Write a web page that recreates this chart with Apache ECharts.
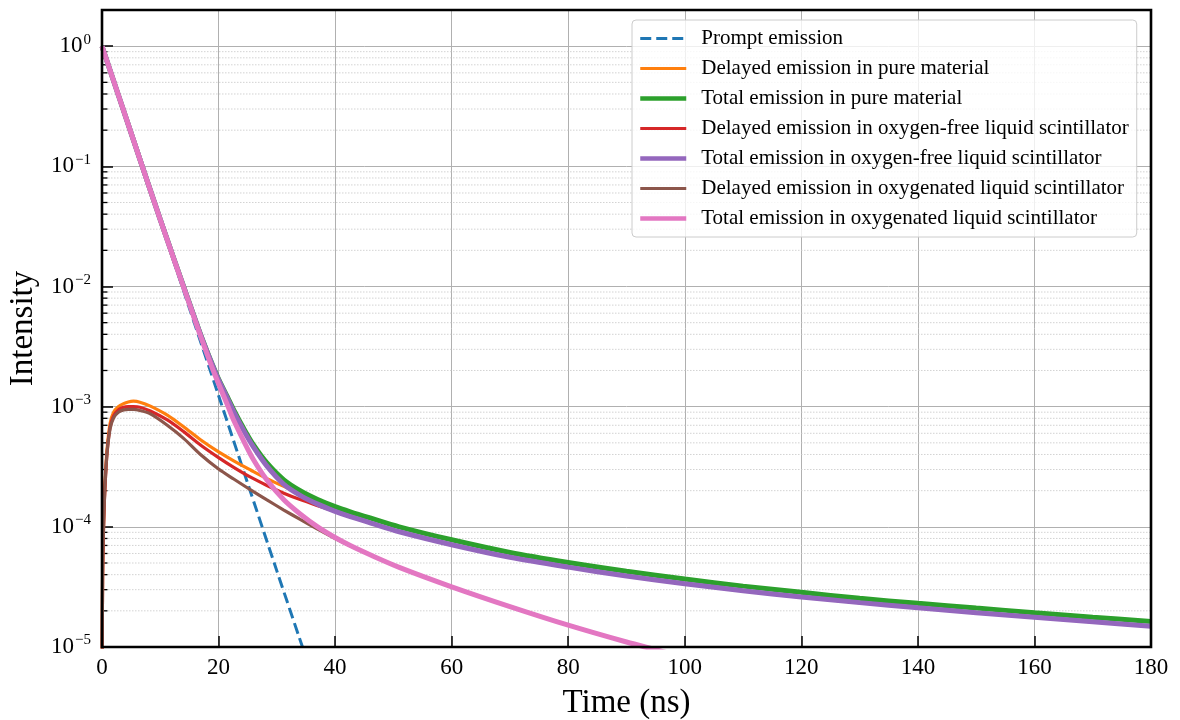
<!DOCTYPE html>
<html>
<head>
<meta charset="utf-8">
<script src="https://cdn.jsdelivr.net/npm/echarts@6/dist/echarts.min.js"></script>
<style>
html,body{margin:0;padding:0;background:#fff;}
#chart{width:1180px;height:720px;}
</style>
</head>
<body>
<div id="chart"></div>
<script>
// ---- data ----
var seriesNames = [
  'Prompt emission',
  'Delayed emission in pure material',
  'Total emission in pure material',
  'Delayed emission in oxygen-free liquid scintillator',
  'Total emission in oxygen-free liquid scintillator',
  'Delayed emission in oxygenated liquid scintillator',
  'Total emission in oxygenated liquid scintillator'
];
var xTicks = [0, 20, 40, 60, 80, 100, 120, 140, 160, 180];
var yTickExponents = [-5, -4, -3, -2, -1, 0];

var promptT = [0, 5, 10, 15, 20, 25, 30, 34.4];
var promptV = [1.0, 0.188, 0.0352, 6.6e-3, 1.24e-3, 2.3e-4, 4.3e-5, 1.0e-5];

var totalT = [0, 5, 10, 15, 17, 19, 20, 21.5, 22.6, 24.3, 26, 28.3, 31.2, 34, 37, 40, 42.6, 46, 51, 60, 70, 80, 90, 100, 110, 120, 130, 140, 150, 160, 170, 180];
var totalPureV = [1.0, 0.189, 0.036, 7.28e-3, 3.89e-3, 2.2e-3, 1.7e-3, 1.21e-3, 9.4e-4, 6.6e-4, 4.8e-4, 3.4e-4, 2.46e-4, 2.0e-4, 1.69e-4, 1.475e-4, 1.335e-4, 1.185e-4, 1.0e-4, 7.8e-5, 6.12e-5, 5.05e-5, 4.27e-5, 3.68e-5, 3.21e-5, 2.85e-5, 2.54e-5, 2.31e-5, 2.11e-5, 1.93e-5, 1.77e-5, 1.63e-5];
var totalFreeV = [1.0, 0.189, 0.036, 7.26e-3, 3.87e-3, 2.18e-3, 1.67e-3, 1.18e-3, 9.1e-4, 6.35e-4, 4.6e-4, 3.2e-4, 2.26e-4, 1.83e-4, 1.545e-4, 1.345e-4, 1.215e-4, 1.08e-4, 9.1e-5, 7.1e-5, 5.58e-5, 4.62e-5, 3.9e-5, 3.36e-5, 2.94e-5, 2.61e-5, 2.34e-5, 2.12e-5, 1.93e-5, 1.77e-5, 1.62e-5, 1.49e-5];

var totalOxT = [0, 5, 10, 15, 17, 19, 20, 21.5, 22.6, 24.3, 26, 28.3, 31.2, 34, 37, 40, 42.6, 46, 51, 60, 70, 80, 90, 95, 100];
var totalOxV = [1.0, 0.189, 0.0359, 7.15e-3, 3.75e-3, 2.04e-3, 1.55e-3, 1.04e-3, 7.7e-4, 5.2e-4, 3.62e-4, 2.45e-4, 1.68e-4, 1.28e-4, 1.0e-4, 8.15e-5, 6.98e-5, 5.85e-5, 4.6e-5, 3.17e-5, 2.17e-5, 1.52e-5, 1.1e-5, 9.5e-6, 8.2e-6];

var delayedT = [0.02, 0.1, 0.2, 0.4, 0.6, 0.9, 1.4, 2.0, 2.8, 3.7, 4.5, 5.4, 6.5, 8.3, 11.2, 14, 16.9, 20, 22.6, 25.5, 28.3, 31.2, 34, 37, 40, 42.6, 46, 51, 60, 70, 80, 90, 100, 110, 120, 130, 140, 150, 160, 170, 180];
var delayedPureV = [5e-6, 4e-5, 8e-5, 1.7e-4, 2.8e-4, 4.6e-4, 7.3e-4, 9.0e-4, 1.0e-3, 1.06e-3, 1.095e-3, 1.11e-3, 1.09e-3, 1.01e-3, 8.5e-4, 6.8e-4, 5.3e-4, 4.2e-4, 3.54e-4, 2.97e-4, 2.52e-4, 2.17e-4, 1.9e-4, 1.66e-4, 1.46e-4, 1.325e-4, 1.18e-4, 1.0e-4, 7.8e-5, 6.12e-5, 5.05e-5, 4.27e-5, 3.68e-5, 3.21e-5, 2.85e-5, 2.54e-5, 2.31e-5, 2.11e-5, 1.93e-5, 1.77e-5, 1.63e-5];
var delayedFreeV = [5e-6, 3.8e-5, 7.5e-5, 1.6e-4, 2.6e-4, 4.3e-4, 6.8e-4, 8.4e-4, 9.4e-4, 9.9e-4, 1.0e-3, 1.0e-3, 9.9e-4, 9.2e-4, 7.75e-4, 6.2e-4, 4.8e-4, 3.77e-4, 3.13e-4, 2.59e-4, 2.21e-4, 1.905e-4, 1.685e-4, 1.5e-4, 1.343e-4, 1.215e-4, 1.08e-4, 9.1e-5, 7.1e-5, 5.58e-5, 4.62e-5, 3.9e-5, 3.36e-5, 2.94e-5, 2.61e-5, 2.34e-5, 2.12e-5, 1.93e-5, 1.77e-5, 1.62e-5, 1.49e-5];
var delayedOxT = [0.02, 0.1, 0.2, 0.4, 0.6, 0.9, 1.4, 2.0, 2.8, 3.7, 4.5, 5.4, 6.5, 8.3, 11.2, 14, 16.9, 20, 22.6, 25.5, 28.3, 31.2, 34, 37, 40, 42.6, 46, 51, 60, 70, 80, 90, 95, 100];
var delayedOxV = [5e-6, 3.8e-5, 7.5e-5, 1.6e-4, 2.6e-4, 4.3e-4, 6.6e-4, 8.1e-4, 9.0e-4, 9.4e-4, 9.5e-4, 9.5e-4, 9.3e-4, 8.7e-4, 7.0e-4, 5.45e-4, 4.0e-4, 3.03e-4, 2.5e-4, 2.03e-4, 1.675e-4, 1.38e-4, 1.153e-4, 9.57e-5, 8.0e-5, 6.95e-5, 5.85e-5, 4.6e-5, 3.17e-5, 2.17e-5, 1.52e-5, 1.1e-5, 9.5e-6, 8.2e-6];

var colors = ['#1f77b4', '#ff7f0e', '#2ca02c', '#d62728', '#9467bd', '#8c564b', '#e377c2'];
var lineWidths = [3, 3.2, 5, 3.2, 5, 3.2, 5];
var legendWidths = [3, 3.2, 4.5, 3.2, 4.5, 3.2, 4.5];
var promptDash = [11, 5];

function pairs(t, v) { return t.map(function (x, i) { return [x, v[i]]; }); }

// minor grid positions on the log axis (2..9 per decade)
var minorValues = [];
yTickExponents.forEach(function (e) {
  if (e >= 0) return;
  for (var k = 2; k <= 9; k++) minorValues.push(+(k * Math.pow(10, e)).toPrecision(6));
});

var FONT = '"Liberation Serif", "DejaVu Serif", serif';

var chart = echarts.init(document.getElementById('chart'), null, { renderer: 'canvas' });

function lineSeries(idx, data) {
  return {
    name: seriesNames[idx],
    type: 'line',
    data: data,
    symbol: 'none',
    showSymbol: false,
    smooth: 0.3,
    clip: true,
    z: 3 + idx,
    lineStyle: { color: colors[idx], width: lineWidths[idx], type: idx === 0 ? promptDash : 'solid', cap: 'butt' },
    itemStyle: { color: colors[idx] },
    emphasis: { disabled: true }
  };
}

var option = {
  animation: false,
  backgroundColor: '#fff',
  textStyle: { fontFamily: FONT },
  grid: {
    left: 102, right: 29, top: 10, bottom: 73,
    outerBoundsMode: 'none', containLabel: false,
    show: true, borderColor: '#000', borderWidth: 2.6, backgroundColor: 'transparent', z: 20
  },
  legend: {
    data: seriesNames.map(function (n, i) {
      return { name: n, lineStyle: { width: legendWidths[i], color: colors[i], type: i === 0 ? promptDash : 'solid' } };
    }),
    orient: 'vertical',
    left: 632, top: 20,
    padding: [8, 8, 8, 6],
    itemWidth: 46, itemHeight: 14, itemGap: 9,
    backgroundColor: 'rgba(255,255,255,0.8)',
    borderColor: '#cccccc', borderWidth: 1, borderRadius: 4,
    itemStyle: { opacity: 0, borderWidth: 0 },
    textStyle: { fontFamily: FONT, fontSize: 21, color: '#000', lineHeight: 20, padding: [0, 0, 0, 10] },
    z: 30
  },
  xAxis: {
    type: 'value', min: 0, max: 180, interval: 20,
    name: 'Time (ns)', nameLocation: 'middle', nameGap: 40,
    nameTextStyle: { fontFamily: FONT, fontSize: 33, color: '#000' },
    axisLine: { show: false },
    axisTick: { show: true, inside: true, length: 11, lineStyle: { color: '#000', width: 1.5 } },
    axisLabel: { fontFamily: FONT, fontSize: 23, color: '#000', margin: 9,
      formatter: function (v) { return xTicks.indexOf(v) >= 0 ? String(v) : ''; } },
    splitLine: { show: true, showMinLine: false, showMaxLine: false, lineStyle: { color: '#b0b0b0', width: 1 } }
  },
  yAxis: {
    type: 'log', logBase: 10, min: 1e-5, max: 2,
    name: 'Intensity', nameLocation: 'middle', nameGap: 49, nameRotate: 90,
    nameTextStyle: { fontFamily: FONT, fontSize: 33, color: '#000' },
    axisLine: { show: false },
    axisTick: { show: true, inside: true, length: 11, lineStyle: { color: '#000', width: 1.5 } },
    axisLabel: {
      margin: 11, color: '#000',
      formatter: function (v) {
        var e = Math.log10(v), n = Math.round(e);
        if (Math.abs(e - n) > 1e-6 || yTickExponents.indexOf(n) < 0) return '';
        return '{b|10}{s|' + (n < 0 ? '\u2212' + (-n) : String(n)) + '}';
      },
      rich: {
        b: { fontFamily: FONT, fontSize: 23, color: '#000' },
        s: { fontFamily: FONT, fontSize: 15, color: '#000', padding: [0, 0, 13, 1] }
      }
    },
    splitLine: { show: true, showMinLine: false, showMaxLine: false, lineStyle: { color: '#b0b0b0', width: 1 } }
  },
  series: [
    {
      name: 'minor', type: 'custom', silent: true, z: 1,
      data: minorValues.map(function (v) { return [0, v]; }),
      encode: { x: 0, y: 1 },
      renderItem: function (params, api) {
        var cs = params.coordSys;
        var y = api.coord([0, api.value(1)])[1];
        return {
          type: 'group',
          children: [
            { type: 'line', shape: { x1: cs.x, y1: y, x2: cs.x + cs.width, y2: y },
              style: { stroke: '#c8c8c8', lineWidth: 0.8, lineDash: [1.5, 1.5] } },
            { type: 'line', shape: { x1: cs.x, y1: y, x2: cs.x + 5.5, y2: y },
              style: { stroke: '#000', lineWidth: 1.3 } }
          ]
        };
      }
    },
    lineSeries(0, pairs(promptT, promptV)),
    lineSeries(1, pairs(delayedT, delayedPureV)),
    lineSeries(2, pairs(totalT, totalPureV)),
    lineSeries(3, pairs(delayedT, delayedFreeV)),
    lineSeries(4, pairs(totalT, totalFreeV)),
    lineSeries(5, pairs(delayedOxT, delayedOxV)),
    lineSeries(6, pairs(totalOxT, totalOxV))
  ]
};
chart.setOption(option);
</script>
</body>
</html>
